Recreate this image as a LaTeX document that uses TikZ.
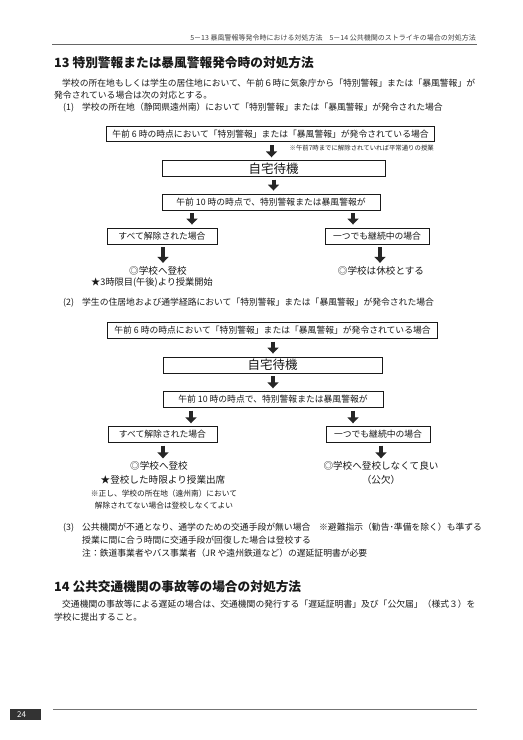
\documentclass[tikz,border=0pt]{standalone}
\usepackage{fontspec}
\setmainfont{Noto Sans CJK JP}
\usetikzlibrary{arrows.meta}
\begin{document}
\begin{tikzpicture}[x=1bp,y=-1bp,
  txt/.style={inner sep=0pt, anchor=west, font=\fontsize{8.8bp}{10bp}\selectfont, text=black!90},
  box/.style={draw=black!90, line width=0.9bp, fill=white, inner sep=0pt, text=black!90, font=\fontsize{8.8bp}{10bp}\selectfont},
  res/.style={inner sep=0pt, text=black!90, font=\fontsize{9.6bp}{11bp}\selectfont},
  note/.style={inner sep=0pt, text=black!90, font=\fontsize{7.7bp}{9bp}\selectfont},
  ttl/.style={inner sep=0pt, anchor=west, text=black!90, font=\fontsize{12.7bp}{14bp}\selectfont\bfseries},
  barrow/.style={-{Triangle[width=11bp,length=6bp]}, line width=4bp, draw=black!85, shorten <=3bp, shorten >=3bp}]
\fill[white] (0,0) rectangle (523,740);
\useasboundingbox (0,0) rectangle (523,740);

% header
\node[inner sep=0pt, anchor=east, text=black!75, font=\fontsize{7bp}{8bp}\selectfont] (hdr) at (476,38) {5－13 暴風警報等発令時における対処方法　5－14 公共機関のストライキの場合の対処方法};
\coordinate (hl1) at (52,44);
\coordinate (hl2) at (477,44);
\draw[black!60, line width=0.8bp] (hl1) -- (hl2);

% section 13
\node[ttl] (t13) at (54,63) {13 特別警報または暴風警報発令時の対処方法};
\node[txt] (p1) at (62,83) {学校の所在地もしくは学生の居住地において、午前６時に気象庁から「特別警報」または「暴風警報」が};
\node[txt] (p2) at (54,95.5) {発令されている場合は次の対応とする。};
\node[txt] (p3) at (63,107.5) {\makebox[19bp][l]{(1)}学校の所在地（静岡県遠州南）において「特別警報」または「暴風警報」が発令された場合};

% flowchart 1
\node[box, line width=1bp, minimum width=327bp, minimum height=15bp] (a1) at (270.5,134) {午前 6 時の時点において「特別警報」または「暴風警報」が発令されている場合};
\node[box, minimum width=223bp, minimum height=15.5bp, font=\fontsize{12.5bp}{14bp}\selectfont] (a2) at (273.5,168.5) {自宅待機};
\node[box, minimum width=218bp, minimum height=16bp] (a3) at (271,202) {午前 10 時の時点で、特別警報または暴風警報が};
\node[box, minimum width=110bp, minimum height=16bp] (a4) at (162,236) {すべて解除された場合};
\node[box, minimum width=104bp, minimum height=16bp] (a5) at (377,236) {一つでも継続中の場合};
\node[inner sep=0pt, anchor=east, text=black!85, font=\fontsize{6.4bp}{7bp}\selectfont] (an) at (434,148) {※午前7時までに解除されていれば平常通りの授業};
\node[res] (a6) at (158,270.5) {◎学校へ登校};
\node[res, font=\fontsize{9.2bp}{10bp}\selectfont] (a7) at (152,283) {★3時限目(午後)より授業開始};
\node[res] (a8) at (381,270.5) {◎学校は休校とする};

\draw[barrow] (a1.south -| 271.5,0) -- (271.5,0 |- a2.north);
\draw[barrow] (a2.south) -- (a2.south |- a3.north);
\draw[barrow] (192,0 |- a3.south) -- (192,0 |- a4.north);
\draw[barrow] (353,0 |- a3.south) -- (353,0 |- a5.north);
\draw[barrow] (163,0 |- a4.south) -- (163,0 |- a6.north);
\draw[barrow] (380,0 |- a5.south) -- (380,0 |- a8.north);

% (2)
\node[txt] (p4) at (63,302.5) {\makebox[19bp][l]{(2)}学生の住居地および通学経路において「特別警報」または「暴風警報」が発令された場合};

% flowchart 2
\node[box, line width=1bp, minimum width=329bp, minimum height=16bp] (b1) at (272.5,330) {午前 6 時の時点において「特別警報」または「暴風警報」が発令されている場合};
\node[box, minimum width=219bp, minimum height=16bp, font=\fontsize{12.5bp}{14bp}\selectfont] (b2) at (272.5,365) {自宅待機};
\node[box, minimum width=220bp, minimum height=15.5bp] (b3) at (273,399.5) {午前 10 時の時点で、特別警報または暴風警報が};
\node[box, minimum width=109bp, minimum height=15.5bp] (b4) at (162.5,434.5) {すべて解除された場合};
\node[box, minimum width=104bp, minimum height=15.5bp] (b5) at (378,434.5) {一つでも継続中の場合};
\node[res] (b6) at (159,466) {◎学校へ登校};
\node[res] (b7) at (163,480) {★登校した時限より授業出席};
\node[note] (b8) at (164,493.5) {※正し、学校の所在地（遠州南）において};
\node[note] (b9) at (164,506) {解除されてない場合は登校しなくてよい};
\node[res] (b10) at (381,466) {◎学校へ登校しなくて良い};
\node[res] (b11) at (381,480) {（公欠）};

\draw[barrow] (b1.south -| 273,0) -- (273,0 |- b2.north);
\draw[barrow] (b2.south -| 273,0) -- (273,0 |- b3.north);
\draw[barrow] (191,0 |- b3.south) -- (191,0 |- b4.north);
\draw[barrow] (353,0 |- b3.south) -- (353,0 |- b5.north);
\draw[barrow] (163,0 |- b4.south) -- (163,0 |- b6.north);
\draw[barrow] (381,0 |- b5.south) -- (381,0 |- b10.north);

% (3)
\node[txt] (p5) at (63,528) {\makebox[19bp][l]{(3)}公共機関が不通となり、通学のための交通手段が無い場合　※避難指示（勧告･準備を除く）も準ずる};
\node[txt] (p6) at (82,540) {授業に間に合う時間に交通手段が回復した場合は登校する};
\node[txt] (p7) at (82,553) {注：鉄道事業者やバス事業者（JR や遠州鉄道など）の遅延証明書が必要};

% section 14
\node[ttl] (t14) at (54,587) {14 公共交通機関の事故等の場合の対処方法};
\node[txt] (p8) at (62,604) {交通機関の事故等による遅延の場合は、交通機関の発行する「遅延証明書」及び「公欠届」（様式３）を};
\node[txt] (p9) at (54,617) {学校に提出すること。};

% footer
\fill[black!80] (10,709) rectangle (41,720);
\node[inner sep=0pt, anchor=west, text=white, font=\fontsize{8bp}{9bp}\selectfont] (pg) at (17,714.5) {24};
\coordinate (fl1) at (53,709);
\coordinate (fl2) at (477,709);
\draw[black!55, line width=0.9bp] (fl1) -- (fl2);
\end{tikzpicture}
\end{document}
